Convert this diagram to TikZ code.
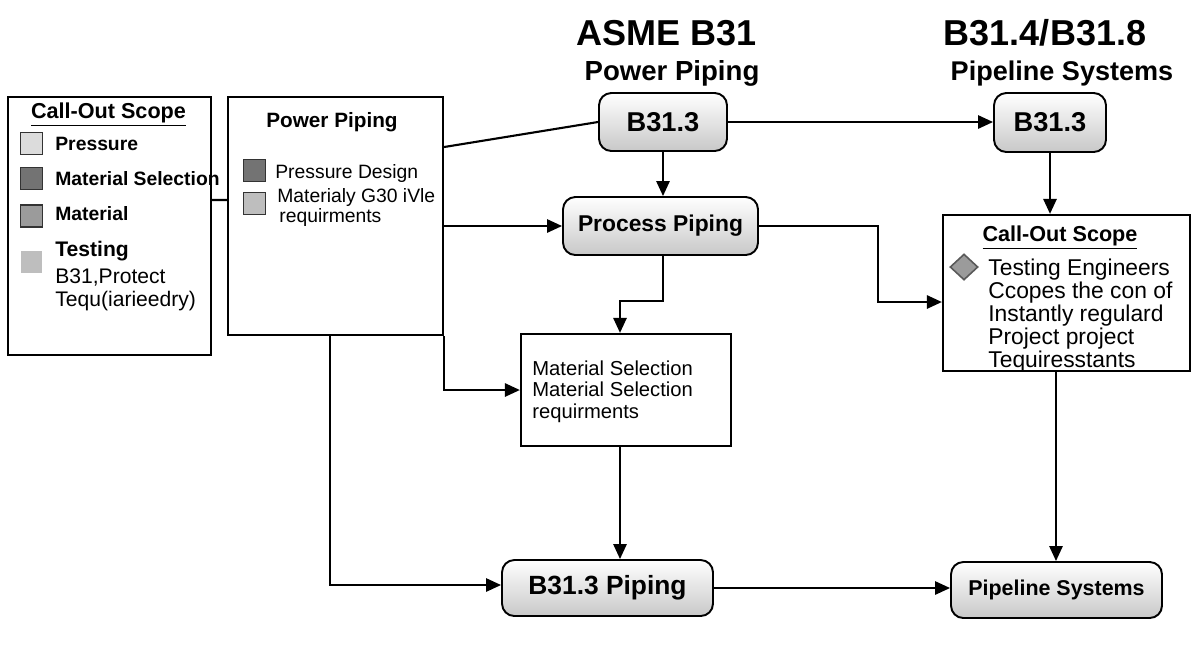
\documentclass[tikz,border=0pt]{standalone}
\usepackage{fontspec}
\setmainfont{Liberation Sans}
\usepackage{xcolor}
\definecolor{swatchlight}{RGB}{220, 220, 220}
\definecolor{swatchdark}{RGB}{115, 115, 115}
\definecolor{swatchmid}{RGB}{155, 155, 155}
\definecolor{swatchpale}{RGB}{190, 190, 190}
\definecolor{pillshade}{RGB}{200, 200, 200}
\usetikzlibrary{arrows.meta,shapes.geometric}

\tikzset{
  line/.style={line width=1.2pt},
  arr/.style={line width=1.2pt,-{Triangle[length=8.5pt,width=7.5pt]}},
  panel/.style={draw,line width=1.3pt,fill=white,inner sep=0pt},
  pill/.style={draw,line width=1.1pt,rounded corners=7pt,
    top color=white,bottom color=pillshade,inner sep=0pt,
    font=\bfseries\fontsize{15.5}{18}\selectfont},
  swatch/.style={draw=black!80,line width=0.9pt,minimum size=0.44cm,inner sep=0pt},
  lbl/.style={anchor=base west,inner sep=0pt},
  bold/.style={lbl,font=\bfseries\fontsize{11}{13}\selectfont},
  plain/.style={lbl,font=\fontsize{11}{13}\selectfont},
  head/.style={anchor=base,inner sep=0pt,font=\bfseries\fontsize{12.3}{14}\selectfont}
}

\begin{document}
\begin{tikzpicture}[x=0.02cm,y=-0.02cm]
  \useasboundingbox (0,0) rectangle (1200,654);

  % titles
  \node[anchor=base,inner sep=0pt,font=\bfseries\fontsize{20.5}{24}\selectfont] (asme) at (667,45) {ASME B31};
  \node[anchor=base,inner sep=0pt,font=\bfseries\fontsize{15.7}{18}\selectfont] (asmesub) at (672,80) {Power Piping};
  \node[anchor=base,inner sep=0pt,font=\bfseries\fontsize{20.5}{24}\selectfont] (pipe) at (1045,45) {B31.4/B31.8};
  \node[anchor=base,inner sep=0pt,font=\bfseries\fontsize{15.4}{18}\selectfont] (pipesub) at (1062,80) {Pipeline Systems};

  % left call-out panel
  \node[panel,minimum width=4.06cm,minimum height=5.16cm] (leftbox) at (109.5,226) {};
  \node[head] (lefthead) at (108.5,118) {\underline{Call-Out Scope}};
  \node[swatch,fill=swatchlight] (sq1) at (31.5,143.5) {};
  \node[swatch,fill=swatchdark] (sq2) at (31.5,178.5) {};
  \node[swatch,fill=swatchmid] (sq3) at (31.5,216) {};
  \node[swatch,draw=none,fill=swatchpale] (sq4) at (31.5,261.5) {};
  \node[bold] (pressure) at (55,150) {Pressure};
  \node[bold] (matsel) at (55,185) {Material Selection};
  \node[bold] (mat) at (55,220) {Material};
  \node[bold,font=\bfseries\fontsize{12}{14}\selectfont] (testing) at (55,256) {Testing};
  \node[lbl,font=\fontsize{12}{14}\selectfont] (protect) at (55,283) {B31,Protect};
  \node[lbl,font=\fontsize{12}{14}\selectfont] (tequ) at (55,306) {Tequ(iarieedry)};

  % power piping panel
  \node[panel,minimum width=4.3cm,minimum height=4.76cm] (powerbox) at (335.5,216) {};
  \node[anchor=base,inner sep=0pt,font=\bfseries\fontsize{11.8}{14}\selectfont] (powerhead) at (332,127) {Power Piping};
  \node[swatch,fill=swatchdark] (psq1) at (254.5,170.5) {};
  \node[swatch,fill=swatchpale] (psq2) at (254.5,203.5) {};
  \node[plain] (pdesign) at (275,178) {Pressure Design};
  \node[plain] (pmat) at (277,202) {Materialy G30 iVle};
  \node[plain] (preq) at (279,222) {requirments};

  % rounded code boxes
  \node[pill,minimum width=2.56cm,minimum height=1.16cm] (topb) at (663,122) {B31.3};
  \node[pill,minimum width=2.24cm,minimum height=1.18cm] (rightb) at (1050,122.5) {B31.3};
  \node[pill,minimum width=3.9cm,minimum height=1.16cm,
    font=\bfseries\fontsize{13}{15}\selectfont] (process) at (660.5,226) {Process Piping};
  \node[pill,minimum width=4.22cm,minimum height=1.12cm,
    font=\bfseries\fontsize{15}{18}\selectfont] (pipingb) at (607.5,588) {B31.3 Piping};
  \node[pill,minimum width=4.22cm,minimum height=1.12cm,
    font=\bfseries\fontsize{12.2}{15}\selectfont] (pipeline) at (1056.5,590) {Pipeline Systems};

  % right call-out panel
  \node[panel,minimum width=4.94cm,minimum height=3.12cm] (callout) at (1066.5,293) {};
  \node[head] (righthead) at (1060,241) {\underline{Call-Out Scope}};
  \node[diamond,draw=black!65,line width=0.9pt,fill=swatchmid,inner sep=0pt,
    minimum width=0.56cm,minimum height=0.52cm] (dia) at (964,267) {};
  \node[anchor=north west,inner sep=0pt,align=left,
    font=\fontsize{13}{13}\selectfont] (scope) at (988,259)
    {Testing Engineers\\Ccopes the con of\\Instantly regulard\\Project project\\Tequiresstants};

  % material selection panel
  \node[panel,minimum width=4.2cm,minimum height=2.24cm] (matbox) at (626,390) {};
  \node[anchor=north west,inner sep=0pt,align=left,
    font=\fontsize{11.5}{12.5}\selectfont] (mattext) at (532,360)
    {Material Selection\\Material Selection\\requirments};

  % connectors
  \draw[line] ([yshift=.52cm]leftbox.east) -- ([yshift=.32cm]powerbox.west);
  \draw[line] ([yshift=1.38cm]powerbox.east) -- (topb.west);
  \draw[arr] (topb.east) -- (topb.east -| rightb.west);
  \draw[arr] (topb.south) -- (topb.south |- process.north);
  \draw[arr] (powerbox.east |- process.west) -- (process.west);
  \draw[arr] (process.east) -- ++(119,0) |- ([yshift=-.18cm]callout.west);
  \draw[arr] (rightb.south) -- (rightb.south |- callout.north);
  \draw[arr] ([xshift=.05cm]process.south) -- ++(0,45) -| ([xshift=-.12cm]matbox.north);
  \draw[arr] (powerbox.south east) |- (matbox.west);
  \draw[arr] ([xshift=-.11cm]powerbox.south) |- ([yshift=.06cm]pipingb.west);
  \draw[arr] ([xshift=-.12cm]matbox.south) -- ([xshift=-.12cm]matbox.south |- pipingb.north);
  \draw[arr] (pipingb.east) -- (pipingb.east -| pipeline.west);
  \draw[arr] ([xshift=-.01cm]pipeline.north |- callout.south) -- ([xshift=-.01cm]pipeline.north);
\end{tikzpicture}
\end{document}
